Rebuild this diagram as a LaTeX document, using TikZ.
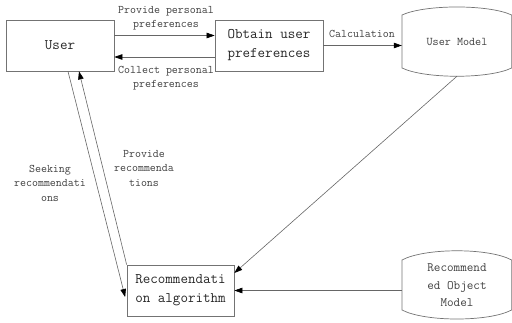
\documentclass[tikz,border=0pt]{standalone}
\usetikzlibrary{arrows.meta,calc}
\begin{document}
\begin{tikzpicture}[x=1pt,y=-1pt,
  box/.style={draw=black!55, line width=0.7pt, minimum width=108pt, minimum height=51pt, inner sep=0pt, align=center, font=\ttfamily\fontsize{14.6}{19}\selectfont, text=black!85},
  lbl/.style={align=center, font=\ttfamily\fontsize{11.6}{14.5}\selectfont, text=black!75, inner sep=0pt},
  conn/.style={draw=black!60, line width=0.6pt},
  arr/.style={conn, -{Triangle[length=8pt,width=5.5pt,color=black]}},
  cyl/.style={draw=none, minimum width=110pt, minimum height=69pt, inner sep=0pt, align=center, text=black!75},
  cylshape/.style={draw=black!55, line width=0.7pt}]
\useasboundingbox (0,0) rectangle (512,322);
% shapes of the two stores
\draw[cylshape] (402,15) .. controls (425,4.3) and (489,4.3) .. (511.6,15) -- (511.6,68) .. controls (489,79) and (425,79) .. (402,68) -- cycle;
\draw[cylshape] (402,260) .. controls (425,247.7) and (489,247.7) .. (511.6,260) -- (511.6,310) .. controls (489,322) and (425,322) .. (402,310) -- cycle;
% nodes
\node[box] (user) at (60,45.5) {User};
\node[box] (ob) at (269,45.5) {Obtain user\\preferences};
\node[box, minimum width=107pt] (ra) at (180.5,290.5) {Recommendati\\on algorithm};
\node[cyl, font=\ttfamily\fontsize{11.8}{14}\selectfont] (um) at (457,41.5) {User Model};
\node[cyl, minimum height=67pt, font=\ttfamily\fontsize{12.8}{17.5}\selectfont] (rom) at (457,285.5) {Recommend\\ed Object\\Model};
% connectors
\draw[arr] ($(user.east)+(0,-10)$) -- ($(ob.west)+(0,-10)$);
\draw[arr] ($(ob.west)+(0,11.5)$) -- ($(user.east)+(0,11.5)$);
\draw[arr] (ob.east) -- (ob.east -| um.west);
\draw[arr] (um.south) -- ($(ra.east)+(0,-17.5)$);
\draw[arr] (rom.west |- ra.east) -- (ra.east);
\draw[arr] ($(user.south)+(8,0)$) -- ($(ra.west)+(-1.5,6.5)$);
\draw[arr] (ra.north west) -- ($(user.south)+(19,0)$);
% labels
\node[lbl] (l1) at (166,18) {Provide personal\\preferences};
\node[lbl] (l2) at (166,78) {Collect personal\\preferences};
\node[lbl] (l3) at (362,34) {Calculation};
\node[lbl] (l4) at (50,183) {Seeking\\recommendati\\ons};
\node[lbl] (l5) at (144,168) {Provide\\recommenda\\tions};
\end{tikzpicture}
\end{document}
